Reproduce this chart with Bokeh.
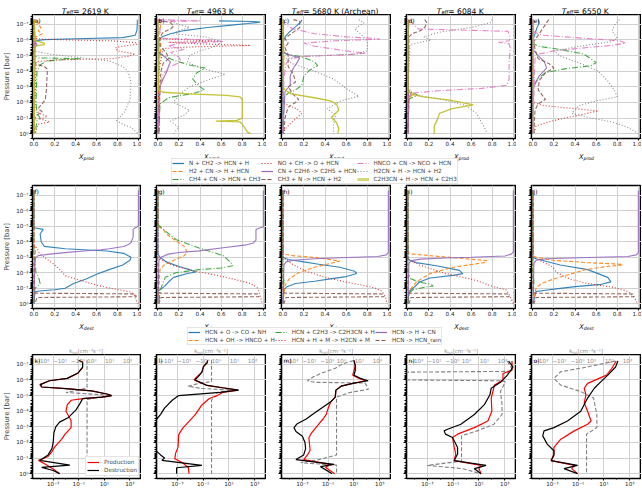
import numpy as np
from bokeh.plotting import figure
from bokeh.models import (Range1d, FixedTicker, CustomJSTickFormatter, Label, Legend, LegendItem,
                          LinearScale)
from bokeh.layouts import row, column
from bokeh.embed import file_html
from bokeh.resources import INLINE
from bokeh.core.properties import value

FONT = "DejaVu Sans"
TEMPS = ["2619 K", "4963 K", "5680 K (Archean)", "6084 K", "6550 K"]
LETTERS = "abcdefghijklmno"

PROD_NAMES = ["N + CH2 -> HCN + H", "H2 + CN -> H + HCN", "CH4 + CN -> HCN + CH3",
              "NO + CH -> O + HCN", "CN + C2H6 -> C2H5 + HCN", "CH3 + N -> HCN + H2",
              "HNCO + CN -> NCO + HCN", "H2CN + H -> HCN + H2", "C2H3CN + H -> HCN + C2H3"]
PROD_COLORS = ["#1f77b4", "#ff7f0e", "#2ca02c", "#d62728", "#9467bd", "#8c564b", "#e377c2", "#7f7f7f", "#bcbd22"]
PROD_DASH = ["solid", "4 2", "6 2 1 2", "1 2", "solid", "4 2", "6 2 1 2", "1 2", "solid"]

DEST_NAMES = ["HCN + O -> CO + NH", "HCN + OH -> HNCO + H", "HCN + C2H3 -> C2H3CN + H",
              "HCN + H + M -> H2CN + M", "HCN -> H + CN", "HCN -> HCN_rain"]
DEST_COLORS = ["#1f77b4", "#ff7f0e", "#2ca02c", "#d62728", "#9467bd", "#8c564b"]
DEST_DASH = ["solid", "4 2", "6 2 1 2", "1 2", "solid", "4 2"]

P_TICK_EXP = [-7, -6, -5, -4, -3, -2, -1, 0]
X_TICKS = [0.0, 0.2, 0.4, 0.6, 0.8, 1.0]
K_TICK_EXP = [-3, -1, 1, 3]
KTOT_TICKS = [-100, -10, -1, 1, 10, 100]
KTOT_LABELS = ["\u221210\u00b2", "\u221210\u00b9", "\u221210\u2070", "10\u2070", "10\u00b9", "10\u00b2"]

# ---- production fractions: (log10 P [bar], X_prod) ----
prod_a = {
    PROD_NAMES[0]: [(-7.3, 0.99), (-7.0, 0.99), (-6.6, 0.985), (-6.3, 0.97), (-6.15, 0.85), (-6.08, 0.4), (-6.02, 0.1), (-5.95, 0.02), (-5.5, 0.005), (0.0, 0.003)],
    PROD_NAMES[1]: [(-7.3, 0.01), (-7.15, 0.06), (-7.0, 0.03), (-6.8, 0.07), (-6.6, 0.04), (-6.4, 0.08), (-6.2, 0.02), (-6.0, 0.005), (0.0, 0.003)],
    PROD_NAMES[2]: [(-7.3, 0.0), (-5.0, 0.0), (-4.85, 0.05), (-4.8, 0.45), (-4.75, 0.3), (-4.65, 0.12), (-4.4, 0.06), (-4.0, 0.03), (-2.0, 0.02), (-1.3, 0.03), (-1.0, 0.06), (-0.8, 0.03), (-0.4, 0.02), (0.0, 0.02)],
    PROD_NAMES[3]: [(-7.3, 0.0), (-6.1, 0.0), (-6.04, 0.1), (-5.94, 0.75), (-5.83, 0.97), (-5.73, 0.99), (-5.6, 0.85), (-5.5, 0.78), (-5.3, 0.8), (-5.1, 0.97), (-4.95, 0.9), (-4.8, 0.75), (-4.72, 0.2), (-4.6, 0.02), (-1.6, 0.01), (-1.3, 0.05), (-1.1, 0.13), (-0.95, 0.06), (-0.75, 0.15), (-0.6, 0.04), (0.0, 0.01)],
    PROD_NAMES[4]: [(-7.3, 0.005), (-5.9, 0.01), (-5.7, 0.03), (-5.5, 0.01), (0.0, 0.003)],
    PROD_NAMES[5]: [(-7.3, 0.0), (-4.6, 0.0), (-4.45, 0.02), (-4.3, 0.1), (-4.13, 0.13), (-3.5, 0.125), (-2.8, 0.12), (-2.2, 0.11), (-2.0, 0.09), (-1.6, 0.04), (-1.4, 0.08), (-1.2, 0.03), (-1.0, 0.01), (0.0, 0.0)],
    PROD_NAMES[6]: [(-7.3, 0.003), (0.0, 0.003)],
    PROD_NAMES[7]: [(-7.3, 0.0), (-5.3, 0.0), (-5.1, 0.15), (-4.9, 0.4), (-4.66, 0.72), (-4.3, 0.85), (-4.0, 0.9), (-3.3, 0.93), (-2.2, 0.92), (-1.4, 0.87), (-0.85, 0.79), (-0.6, 0.85), (-0.4, 0.93), (-0.1, 0.98), (0.0, 1.0)],
    PROD_NAMES[8]: [(-7.3, 0.005), (-5.95, 0.01), (-5.8, 0.1), (-5.7, 0.1), (-5.6, 0.01), (0.0, 0.003)],
}
prod_b = {
    PROD_NAMES[0]: [(-7.22, 0.58), (-7.18, 0.9), (-7.14, 0.97), (-7.05, 0.85), (-6.95, 0.7), (-6.8, 0.47), (-6.6, 0.25), (-6.4, 0.12), (-6.2, 0.04), (-6.0, 0.01), (0.0, 0.0)],
    PROD_NAMES[1]: [(-7.3, 0.01), (-7.0, 0.03), (-6.5, 0.01), (-5.5, 0.03), (-5.0, 0.02), (-4.0, 0.01), (0.0, 0.005)],
    PROD_NAMES[2]: [(-7.3, 0.0), (-5.3, 0.0), (-5.1, 0.02), (-4.7, 0.15), (-4.4, 0.3), (-4.2, 0.45), (-3.9, 0.37), (-3.5, 0.33), (-3.1, 0.38), (-2.8, 0.44), (-2.6, 0.35), (-2.3, 0.1), (-1.9, 0.02), (0.0, 0.01)],
    PROD_NAMES[3]: [(-7.3, 0.0), (-6.1, 0.0), (-6.0, 0.3), (-5.92, 0.55), (-5.85, 0.1), (-5.75, 0.4), (-5.65, 0.88), (-5.55, 0.3), (-5.45, 0.05), (-4.0, 0.01), (0.0, 0.0)],
    PROD_NAMES[4]: [(-7.3, 0.0), (-5.3, 0.0), (-5.0, 0.05), (-4.6, 0.12), (-4.3, 0.1), (-3.9, 0.08), (-3.5, 0.05), (-3.0, 0.02), (0.0, 0.0)],
    PROD_NAMES[5]: [(-7.3, 0.0), (-7.1, 0.12), (-6.9, 0.15), (-6.7, 0.12), (-6.5, 0.05), (-6.2, 0.02), (-5.6, 0.02), (-5.2, 0.08), (-4.8, 0.1), (-4.5, 0.05), (-4.0, 0.03), (-3.0, 0.02), (0.0, 0.01)],
    PROD_NAMES[6]: [(-7.3, 0.0), (-7.22, 0.4), (-7.18, 0.02), (-6.5, 0.02), (-6.1, 0.05), (-6.0, 0.5), (-5.9, 0.62), (-5.8, 0.2), (-5.6, 0.1), (-5.4, 0.25), (-5.2, 0.12), (-4.9, 0.2), (-4.6, 0.22), (-4.3, 0.12), (-3.8, 0.05), (-3.0, 0.02), (0.0, 0.0)],
    PROD_NAMES[7]: [(-7.3, 0.1), (-7.1, 0.15), (-6.8, 0.3), (-6.6, 0.2), (-6.4, 0.15), (-6.2, 0.45), (-5.9, 0.6), (-5.6, 0.55), (-5.3, 0.4), (-5.0, 0.3), (-4.6, 0.28), (-4.2, 0.4), (-3.8, 0.64), (-3.5, 0.5), (-3.0, 0.3), (-2.5, 0.2), (-2.0, 0.15), (-1.5, 0.3), (-1.2, 0.25), (-0.8, 0.12), (-0.4, 0.2), (0.0, 0.15)],
    PROD_NAMES[8]: [(-7.3, 0.0), (-2.8, 0.005), (-2.65, 0.05), (-2.55, 0.3), (-2.45, 0.65), (-2.35, 0.78), (-2.2, 0.8), (-1.5, 0.8), (-1.0, 0.8), (-0.85, 0.75), (-0.8, 0.55), (-0.75, 0.78), (-0.6, 0.8), (-0.4, 0.82), (-0.1, 0.85), (0.0, 0.88)],
}
prod_c = {
    PROD_NAMES[0]: [(-7.3, 0.18), (-7.15, 0.17), (-6.9, 0.13), (-6.5, 0.06), (-6.2, 0.02), (-5.8, 0.0), (0.0, 0.0)],
    PROD_NAMES[1]: [(-7.3, 0.005), (-5.0, 0.01), (-3.0, 0.005), (0.0, 0.003)],
    PROD_NAMES[2]: [(-7.3, 0.0), (-5.3, 0.0), (-5.1, 0.03), (-4.9, 0.19), (-4.6, 0.3), (-4.35, 0.33), (-4.05, 0.25), (-3.7, 0.2), (-3.1, 0.18), (-2.8, 0.12), (-2.6, 0.05), (-2.3, 0.01), (0.0, 0.0)],
    PROD_NAMES[3]: [(-7.3, 0.0), (-2.0, 0.0), (-1.8, 0.05), (-1.6, 0.13), (-1.3, 0.18), (-1.0, 0.13), (-0.7, 0.08), (-0.3, 0.02), (0.0, 0.01)],
    PROD_NAMES[4]: [(-7.3, 0.0), (-5.2, 0.0), (-5.0, 0.08), (-4.85, 0.16), (-4.5, 0.13), (-4.2, 0.1), (-3.7, 0.07), (-3.1, 0.07), (-2.7, 0.02), (0.0, 0.0)],
    PROD_NAMES[5]: [(-7.3, 0.1), (-7.2, 0.16), (-6.8, 0.16), (-6.5, 0.1), (-6.1, 0.02), (-5.8, 0.05), (-5.5, 0.02), (-5.0, 0.05), (-4.3, 0.05), (-3.8, 0.1), (-3.3, 0.12), (-3.0, 0.05), (-2.5, 0.1), (-2.2, 0.15), (-2.0, 0.12), (-1.7, 0.05), (-1.0, 0.02), (0.0, 0.01)],
    PROD_NAMES[6]: [(-7.3, 0.0), (-7.0, 0.02), (-6.7, 0.1), (-6.4, 0.3), (-6.2, 0.6), (-6.1, 0.88), (-6.05, 0.92), (-5.95, 0.5), (-5.8, 0.2), (-5.6, 0.3), (-5.3, 0.6), (-5.15, 0.79), (-5.05, 0.6), (-4.95, 0.2), (-4.8, 0.08), (-4.5, 0.03), (-3.5, 0.01), (0.0, 0.0)],
    PROD_NAMES[7]: [(-7.3, 0.72), (-7.1, 0.77), (-6.7, 0.68), (-6.3, 0.75), (-5.9, 0.8), (-5.3, 0.8), (-5.1, 0.7), (-4.95, 0.2), (-4.8, 0.03), (-4.5, 0.08), (-4.0, 0.3), (-3.5, 0.48), (-2.8, 0.62), (-2.4, 0.72), (-2.1, 0.55), (-1.6, 0.42), (-1.2, 0.5), (-0.6, 0.48), (0.0, 0.48)],
    PROD_NAMES[8]: [(-7.3, 0.0), (-3.0, 0.005), (-2.8, 0.02), (-2.55, 0.08), (-2.3, 0.3), (-2.1, 0.45), (-1.9, 0.51), (-1.5, 0.53), (-1.05, 0.46), (-0.7, 0.51), (-0.3, 0.53), (0.0, 0.52)],
}
prod_d = {
    PROD_NAMES[0]: [(-7.3, 0.01), (-6.5, 0.005), (0.0, 0.0)],
    PROD_NAMES[1]: [(-7.3, 0.0), (-2.7, 0.0), (-2.5, 0.05), (-2.4, 0.03), (-2.2, 0.01), (0.0, 0.0)],
    PROD_NAMES[2]: [(-7.3, 0.0), (-2.8, 0.0), (-2.6, 0.05), (-2.45, 0.1), (-2.35, 0.05), (-2.2, 0.01), (0.0, 0.0)],
    PROD_NAMES[3]: [(-7.3, 0.003), (0.0, 0.003)],
    PROD_NAMES[4]: [(-7.3, 0.0), (-2.8, 0.0), (-2.55, 0.03), (-2.35, 0.01), (0.0, 0.0)],
    PROD_NAMES[5]: [(-7.3, 0.16), (-7.1, 0.18), (-6.8, 0.16), (-6.6, 0.12), (-6.4, 0.04), (-6.2, 0.01), (0.0, 0.0)],
    PROD_NAMES[6]: [(-7.3, 0.02), (-7.0, 0.05), (-6.7, 0.1), (-6.6, 0.7), (-6.55, 0.95), (-6.2, 0.97), (-5.95, 0.96), (-5.85, 0.86), (-5.75, 0.96), (-5.5, 0.97), (-4.5, 0.96), (-3.5, 0.96), (-3.1, 0.94), (-2.9, 0.7), (-2.75, 0.3), (-2.6, 0.05), (-2.4, 0.0), (0.0, 0.0)],
    PROD_NAMES[7]: [(-7.3, 0.8), (-7.1, 0.78), (-6.8, 0.6), (-6.5, 0.3), (-6.2, 0.15), (-6.0, 0.22), (-5.85, 0.12), (-5.7, 0.02), (-3.0, 0.0), (-2.5, 0.05), (-2.2, 0.32), (-1.8, 0.55), (-1.3, 0.65), (-0.7, 0.7), (-0.2, 0.74), (0.0, 0.75)],
    PROD_NAMES[8]: [(-7.3, 0.0), (-2.7, 0.0), (-2.5, 0.05), (-2.35, 0.15), (-2.15, 0.4), (-1.85, 0.62), (-1.6, 0.42), (-1.3, 0.3), (-0.9, 0.28), (-0.5, 0.25), (0.0, 0.25)],
}
prod_e = {
    PROD_NAMES[0]: [(-7.3, 0.05), (-7.1, 0.06), (-6.8, 0.04), (-6.4, 0.02), (-6.0, 0.0), (0.0, 0.0)],
    PROD_NAMES[1]: [(-7.3, 0.003), (0.0, 0.003)],
    PROD_NAMES[2]: [(-7.3, 0.0), (-5.8, 0.0), (-5.6, 0.05), (-5.4, 0.25), (-5.1, 0.48), (-4.8, 0.55), (-4.55, 0.6), (-4.35, 0.55), (-4.15, 0.3), (-3.9, 0.12), (-3.6, 0.06), (-3.2, 0.02), (-2.7, 0.0), (0.0, 0.0)],
    PROD_NAMES[3]: [(-7.3, 0.0), (-2.0, 0.0), (-1.8, 0.1), (-1.6, 0.4), (-1.45, 0.62), (-1.35, 0.55), (-1.2, 0.45), (-1.0, 0.3), (-0.75, 0.15), (-0.5, 0.03), (0.0, 0.01)],
    PROD_NAMES[4]: [(-7.3, 0.0), (-5.4, 0.0), (-5.0, 0.05), (-4.6, 0.11), (-4.2, 0.13), (-3.7, 0.06), (-3.2, 0.02), (-2.8, 0.0), (0.0, 0.0)],
    PROD_NAMES[5]: [(-7.3, 0.15), (-7.0, 0.12), (-6.6, 0.08), (-6.2, 0.04), (-5.9, 0.01), (-5.4, 0.02), (-4.8, 0.05), (-4.5, 0.15), (-4.2, 0.2), (-3.9, 0.12), (-3.4, 0.06), (-2.8, 0.05), (-2.2, 0.12), (-1.9, 0.05), (-1.5, 0.02), (0.0, 0.01)],
    PROD_NAMES[6]: [(-7.3, 0.0), (-6.5, 0.01), (-6.3, 0.1), (-6.1, 0.5), (-5.95, 0.82), (-5.8, 0.88), (-5.65, 0.75), (-5.5, 0.5), (-5.3, 0.2), (-5.1, 0.06), (-4.8, 0.02), (0.0, 0.0)],
    PROD_NAMES[7]: [(-7.3, 0.82), (-7.0, 0.78), (-6.6, 0.75), (-6.1, 0.8), (-5.9, 0.75), (-5.6, 0.45), (-5.3, 0.2), (-5.0, 0.25), (-4.5, 0.45), (-4.0, 0.62), (-3.3, 0.72), (-2.7, 0.78), (-2.35, 0.8), (-2.1, 0.6), (-1.8, 0.44), (-1.3, 0.37), (-1.0, 0.55), (-0.75, 0.75), (-0.4, 0.9), (-0.1, 0.98), (0.0, 1.0)],
    PROD_NAMES[8]: [(-7.3, 0.005), (0.0, 0.005)],
}

# ---- destruction fractions: (log10 P [bar], X_dest) ----
dest_f = {
    DEST_NAMES[0]: [(-7.3, 0.0), (-4.9, 0.0), (-4.8, 0.09), (-4.5, 0.06), (-4.0, 0.07), (-3.7, 0.1), (-3.55, 0.3), (-3.4, 0.7), (-3.25, 0.86), (-3.0, 0.93), (-2.8, 0.92), (-2.5, 0.85), (-2.2, 0.72), (-1.9, 0.6), (-1.6, 0.5), (-1.3, 0.38), (-1.0, 0.3), (-0.9, 0.2), (-0.82, 0.05), (-0.75, 0.01), (0.0, 0.0)],
    DEST_NAMES[1]: [(-7.3, 0.0), (-3.8, 0.0), (-3.5, 0.02), (-3.2, 0.01), (0.0, 0.0)],
    DEST_NAMES[2]: [(-7.3, 0.0), (-3.4, 0.0), (-3.0, 0.01), (-2.0, 0.02), (-1.6, 0.05), (-1.3, 0.06), (-1.1, 0.03), (-1.0, 0.01), (0.0, 0.0)],
    DEST_NAMES[3]: [(-7.3, 0.0), (-3.8, 0.0), (-3.6, 0.03), (-3.3, 0.05), (-3.0, 0.1), (-2.6, 0.18), (-2.2, 0.25), (-1.8, 0.3), (-1.5, 0.45), (-1.2, 0.6), (-1.0, 0.73), (-0.85, 0.85), (-0.75, 0.93), (-0.5, 0.97), (-0.2, 0.98), (0.0, 1.0)],
    DEST_NAMES[4]: [(-7.3, 1.0), (-5.0, 1.0), (-4.9, 0.97), (-4.8, 0.95), (-4.3, 0.95), (-3.95, 0.93), (-3.8, 0.9), (-3.69, 0.86), (-3.55, 0.72), (-3.48, 0.64), (-3.4, 0.48), (-3.31, 0.32), (-3.2, 0.15), (-3.1, 0.04), (-2.9, 0.01), (0.0, 0.0)],
    DEST_NAMES[5]: [(-7.3, 0.0), (-0.75, 0.0), (-0.68, 0.02), (-0.63, 0.97), (-0.45, 0.98), (-0.4, 0.03), (0.0, 0.01)],
}
dest_g = {
    DEST_NAMES[0]: [(-7.3, 0.0), (-3.2, 0.0), (-3.0, 0.02), (-2.7, 0.08), (-2.4, 0.2), (-2.2, 0.3), (-2.05, 0.36), (-1.95, 0.28), (-1.7, 0.15), (-1.4, 0.1), (-1.1, 0.06), (-0.9, 0.02), (-0.8, 0.0), (0.0, 0.0)],
    DEST_NAMES[1]: [(-7.3, 0.0), (-5.0, 0.0), (-4.8, 0.05), (-4.5, 0.08), (-4.15, 0.15), (-3.7, 0.25), (-3.3, 0.28), (-3.1, 0.25), (-2.8, 0.15), (-2.5, 0.06), (-2.2, 0.02), (0.0, 0.0)],
    DEST_NAMES[2]: [(-7.3, 0.0), (-5.1, 0.0), (-5.0, 0.02), (-4.7, 0.07), (-4.15, 0.17), (-3.6, 0.39), (-3.1, 0.62), (-2.6, 0.7), (-2.45, 0.71), (-2.3, 0.6), (-2.2, 0.39), (-2.0, 0.17), (-1.7, 0.07), (-1.2, 0.04), (-0.8, 0.02), (0.0, 0.01)],
    DEST_NAMES[3]: [(-7.3, 0.0), (-3.0, 0.0), (-2.85, 0.03), (-2.5, 0.13), (-2.1, 0.35), (-1.85, 0.55), (-1.6, 0.71), (-1.3, 0.88), (-1.05, 0.94), (-0.8, 0.96), (-0.5, 0.97), (0.0, 0.99)],
    DEST_NAMES[4]: [(-7.3, 1.0), (-4.95, 1.0), (-4.85, 0.95), (-4.78, 0.93), (-4.1, 0.93), (-3.9, 0.9), (-3.8, 0.84), (-3.6, 0.6), (-3.41, 0.39), (-3.3, 0.2), (-3.2, 0.1), (-3.0, 0.03), (-2.8, 0.01), (0.0, 0.0)],
    DEST_NAMES[5]: [(-7.3, 0.0), (-0.75, 0.0), (-0.68, 0.02), (-0.63, 0.95), (-0.45, 0.96), (-0.4, 0.03), (0.0, 0.01)],
}
dest_h = {
    DEST_NAMES[0]: [(-7.3, 0.0), (-3.0, 0.0), (-2.85, 0.05), (-2.7, 0.2), (-2.55, 0.34), (-2.35, 0.54), (-2.1, 0.68), (-1.95, 0.7), (-1.75, 0.6), (-1.6, 0.45), (-1.45, 0.3), (-1.3, 0.12), (-1.1, 0.04), (-0.9, 0.01), (0.0, 0.0)],
    DEST_NAMES[1]: [(-7.3, 0.0), (-3.2, 0.0), (-3.1, 0.1), (-2.95, 0.35), (-2.75, 0.54), (-2.6, 0.45), (-2.35, 0.3), (-2.0, 0.15), (-1.6, 0.06), (-1.2, 0.02), (0.0, 0.0)],
    DEST_NAMES[2]: [(-7.3, 0.0), (-2.0, 0.0), (-1.5, 0.01), (0.0, 0.0)],
    DEST_NAMES[3]: [(-7.3, 0.0), (-3.0, 0.0), (-2.8, 0.04), (-2.5, 0.1), (-2.1, 0.22), (-1.7, 0.4), (-1.4, 0.6), (-1.2, 0.75), (-1.0, 0.88), (-0.8, 0.94), (-0.5, 0.97), (0.0, 0.99)],
    DEST_NAMES[4]: [(-7.3, 1.0), (-3.3, 1.0), (-3.15, 0.98), (-3.05, 0.9), (-2.98, 0.6), (-2.9, 0.3), (-2.8, 0.1), (-2.7, 0.03), (-2.5, 0.01), (0.0, 0.0)],
    DEST_NAMES[5]: [(-7.3, 0.0), (-0.75, 0.0), (-0.68, 0.02), (-0.63, 0.95), (-0.45, 0.96), (-0.4, 0.03), (0.0, 0.01)],
}
dest_i = {
    DEST_NAMES[0]: [(-7.3, 0.0), (-2.9, 0.0), (-2.75, 0.03), (-2.65, 0.08), (-2.45, 0.27), (-2.15, 0.49), (-1.94, 0.52), (-1.83, 0.43), (-1.66, 0.21), (-1.4, 0.11), (-1.0, 0.05), (-0.8, 0.01), (0.0, 0.0)],
    DEST_NAMES[1]: [(-7.3, 0.0), (-3.3, 0.0), (-3.2, 0.05), (-3.05, 0.3), (-2.9, 0.55), (-2.78, 0.75), (-2.65, 0.72), (-2.35, 0.43), (-1.95, 0.21), (-1.4, 0.08), (-0.9, 0.02), (0.0, 0.0)],
    DEST_NAMES[2]: [(-7.3, 0.0), (-2.0, 0.0), (-1.6, 0.03), (-1.4, 0.11), (-1.25, 0.21), (-1.15, 0.24), (-1.05, 0.15), (-0.9, 0.05), (-0.7, 0.01), (0.0, 0.0)],
    DEST_NAMES[3]: [(-7.3, 0.0), (-2.9, 0.0), (-2.8, 0.03), (-2.5, 0.11), (-2.0, 0.33), (-1.5, 0.65), (-1.1, 0.81), (-0.9, 0.93), (-0.6, 0.96), (-0.3, 0.98), (0.0, 1.0)],
    DEST_NAMES[4]: [(-7.3, 1.0), (-3.35, 1.0), (-3.2, 0.98), (-3.08, 0.92), (-3.0, 0.6), (-2.95, 0.35), (-2.88, 0.12), (-2.78, 0.03), (-2.6, 0.01), (0.0, 0.0)],
    DEST_NAMES[5]: [(-7.3, 0.0), (-0.75, 0.0), (-0.68, 0.02), (-0.63, 0.95), (-0.45, 0.96), (-0.4, 0.03), (0.0, 0.01)],
}
dest_j = {
    DEST_NAMES[0]: [(-7.3, 0.0), (-3.0, 0.0), (-2.9, 0.03), (-2.5, 0.26), (-2.2, 0.52), (-1.7, 0.71), (-1.41, 0.74), (-1.25, 0.65), (-1.1, 0.4), (-0.99, 0.26), (-0.85, 0.1), (-0.78, 0.03), (0.0, 0.0)],
    DEST_NAMES[1]: [(-7.3, 0.0), (-3.1, 0.0), (-3.0, 0.03), (-2.8, 0.19), (-2.65, 0.52), (-2.55, 0.84), (-2.5, 0.85), (-2.4, 0.7), (-2.2, 0.5), (-1.9, 0.35), (-1.6, 0.2), (-1.3, 0.08), (-1.0, 0.03), (0.0, 0.0)],
    DEST_NAMES[2]: [(-7.3, 0.0), (-2.0, 0.0), (-1.5, 0.01), (0.0, 0.0)],
    DEST_NAMES[3]: [(-7.3, 0.0), (-3.0, 0.0), (-2.85, 0.05), (-2.4, 0.18), (-2.0, 0.23), (-1.6, 0.35), (-1.3, 0.52), (-1.05, 0.77), (-0.8, 0.9), (-0.5, 0.95), (-0.2, 0.98), (0.0, 0.99)],
    DEST_NAMES[4]: [(-7.3, 1.0), (-3.3, 1.0), (-3.15, 0.98), (-3.05, 0.9), (-2.98, 0.52), (-2.9, 0.13), (-2.8, 0.03), (-2.6, 0.01), (0.0, 0.0)],
    DEST_NAMES[5]: [(-7.3, 0.0), (-0.75, 0.0), (-0.68, 0.02), (-0.63, 0.95), (-0.45, 0.96), (-0.4, 0.03), (0.0, 0.01)],
}

# ---- rate coefficients: (log10 P [bar], log10 k_net) and (log10 P, k_tot) ----
net_k = {
    "prod": [(-7.25, -1.0), (-7.15, -0.7), (-6.8, -0.7), (-6.45, -1.05), (-6.1, -1.9), (-5.95, -3.3), (-5.7, -4.05), (-5.55, -3.9), (-5.45, -2.0), (-5.3, 0.0), (-5.1, 1.2), (-5.0, 1.6), (-4.9, 0.8), (-4.8, -0.7), (-4.7, -1.6), (-4.4, -1.9), (-4.0, -2.0), (-3.4, -1.6), (-2.95, -1.6), (-2.5, -2.1), (-2.2, -2.35), (-1.7, -2.9), (-1.4, -3.1), (-1.1, -3.4), (-0.85, -4.15), (-0.6, -3.6), (-0.3, -3.0), (0.0, -2.5)],
    "dest": [(-7.25, -1.0), (-7.15, -0.7), (-6.8, -0.7), (-6.45, -1.05), (-6.1, -1.9), (-5.95, -3.3), (-5.7, -4.0), (-5.55, -3.9), (-5.45, -2.0), (-5.3, 0.0), (-5.1, 1.2), (-5.0, 1.55), (-4.9, 0.8), (-4.8, -0.7), (-4.5, -0.9), (-4.1, -1.2), (-3.6, -1.8), (-3.3, -2.5), (-3.0, -2.8), (-2.6, -2.95), (-2.0, -3.0), (-1.6, -3.1), (-1.2, -3.4), (-0.85, -4.05), (-0.55, -1.7), (-0.4, -3.9), (-0.2, -3.0), (0.0, -2.5)],
    "tot": [(-7.3, 0.3), (-5.5, 0.3), (-5.35, -1.0), (-5.2, -4.7), (-5.05, 4.0), (-4.95, 11.0), (-4.85, 1.5), (-4.75, 0.3), (0.0, 0.3)],
}
net_l = {
    "prod": [(-7.25, -0.65), (-7.1, -0.7), (-6.85, -0.98), (-6.5, -1.1), (-6.2, -1.5), (-6.0, -1.7), (-5.8, -1.1), (-5.65, -0.7), (-5.5, 0.5), (-5.35, 1.7), (-5.2, 0.5), (-5.05, 0.2), (-4.8, -0.55), (-4.4, -1.1), (-3.8, -1.6), (-3.3, -2.15), (-2.9, -2.6), (-2.5, -2.9), (-1.7, -2.95), (-1.3, -3.14), (-0.95, -3.2), (-0.7, -2.6), (-0.4, -2.15), (0.0, -2.1)],
    "dest": [(-7.25, -0.65), (-7.1, -0.7), (-6.85, -0.98), (-6.5, -1.1), (-6.2, -1.4), (-6.0, -1.65), (-5.8, -1.1), (-5.65, -0.7), (-5.5, 0.5), (-5.35, 1.75), (-5.2, 0.3), (-5.0, -2.9), (-4.7, -3.4), (-4.2, -4.0), (-3.8, -4.3), (-3.5, -4.6), (-3.0, -4.8), (-2.0, -4.8), (-1.5, -4.7), (-1.2, -4.3), (-1.0, -4.0), (-0.85, -4.2), (-0.53, -1.1), (-0.38, -3.06), (0.0, -3.06)],
    "tot": [(-7.3, 0.3), (-5.9, 0.3), (-5.75, -2.0), (-5.6, -6.5), (-5.45, -1.0), (-5.36, 6.5), (-5.2, 1.0), (-5.0, 1.2), (-4.85, 0.5), (-4.7, 0.3), (0.0, 0.3)],
}
net_m = {
    "prod": [(-7.25, 1.0), (-6.9, 1.1), (-6.6, 1.0), (-6.3, 0.9), (-6.1, 1.4), (-5.95, 1.9), (-5.8, 1.0), (-5.6, 0.0), (-5.35, -0.4), (-4.9, -0.45), (-4.6, -0.8), (-4.2, -1.0), (-3.8, -1.15), (-3.5, -1.4), (-3.2, -1.7), (-2.9, -2.0), (-2.6, -2.3), (-2.3, -2.5), (-1.9, -2.45), (-1.5, -2.4), (-1.2, -2.6), (-0.9, -2.9), (-0.6, -0.9), (-0.4, -1.2), (0.0, -0.5)],
    "dest": [(-7.25, 1.0), (-6.9, 1.1), (-6.6, 1.1), (-6.3, 1.0), (-6.1, 1.5), (-5.95, 2.1), (-5.8, 1.0), (-5.6, 0.0), (-5.35, -0.4), (-4.9, -0.45), (-4.6, -0.8), (-4.2, -1.5), (-3.8, -2.2), (-3.5, -2.7), (-3.2, -3.4), (-2.95, -3.65), (-2.7, -3.5), (-2.4, -3.0), (-2.0, -2.8), (-1.6, -2.75), (-1.2, -2.9), (-0.9, -3.5), (-0.6, -0.55), (-0.45, -1.6), (0.0, -0.7)],
    "tot": [(-7.25, 4.6), (-7.0, 1.0), (-6.75, 0.14), (-6.6, -0.8), (-6.4, -2.5), (-6.2, -6.0), (-5.95, -13.0), (-5.85, -5.0), (-5.8, 20.0), (-5.6, 27.0), (-5.4, 31.0), (-5.2, 3.0), (-4.9, 0.3), (-1.2, 0.3), (-0.9, -3.0), (-0.7, -30.0), (-0.55, 0.3), (0.0, 0.3)],
}
net_n = {
    "prod": [(-7.21, 3.56), (-6.62, 3.56), (-6.41, 2.86), (-5.99, 2.86), (-5.68, 2.2), (-5.26, 2.08), (-4.84, 1.95), (-4.0, 2.0), (-3.37, 1.69), (-2.95, 0.64), (-2.53, -0.66), (-2.32, -1.05), (-1.68, -0.92), (-1.26, -0.8), (-0.84, -0.92), (-0.53, 1.16), (-0.32, 1.0), (0.0, 1.16)],
    "dest": [(-7.21, 3.3), (-6.83, 3.64), (-6.31, 3.2), (-5.89, 2.73), (-5.47, 1.95), (-5.05, 1.85), (-4.42, 1.42), (-3.79, 0.64), (-3.16, -0.4), (-2.84, -1.44), (-2.74, -1.7), (-2.53, -1.6), (-2.32, -1.05), (-1.68, -0.66), (-1.26, -0.66), (-0.84, -0.92), (-0.53, 1.55), (-0.32, 0.64), (0.0, 1.16)],
    "tot": [(-7.21, 182.0), (-6.7, 347.0), (-6.55, 300.0), (-6.5, -400.0), (-6.0, -400.0), (-5.95, 77.0), (-5.89, 146.0), (-5.26, 77.0), (-4.42, 95.0), (-3.79, 95.0), (-3.16, 33.0), (-2.74, 3.9), (-2.42, 0.3), (-0.8, 0.3), (-0.53, -25.0), (-0.32, 0.5), (0.0, 6.0)],
}
net_o = {
    "prod": [(-7.21, 1.95), (-6.73, 1.6), (-6.31, 1.2), (-5.78, -0.27), (-5.47, -0.53), (-5.05, -0.4), (-4.53, -0.53), (-4.0, -0.27), (-3.37, 0.0), (-3.16, -0.27), (-2.74, -1.3), (-2.21, -2.35), (-1.68, -2.88), (-1.26, -2.88), (-0.84, -3.1), (-0.53, -1.3), (-0.32, -1.5), (0.0, -1.05)],
    "dest": [(-7.21, 2.08), (-6.83, 1.9), (-6.31, 1.3), (-5.89, 0.77), (-5.47, 0.25), (-4.84, -0.27), (-4.0, -0.8), (-3.37, -1.83), (-2.95, -2.88), (-2.74, -3.65), (-2.42, -3.75), (-1.89, -3.4), (-1.47, -2.88), (-1.16, -2.88), (-0.84, -3.1), (-0.53, -1.05), (-0.32, -2.1), (0.0, -1.05)],
    "tot": [(-7.21, 21.0), (-6.83, 0.38), (-6.52, -8.7), (-6.1, -20.0), (-5.68, -8.7), (-5.26, -0.57), (-4.84, 1.3), (-3.79, 2.0), (-2.95, 2.0), (-2.53, 0.3), (0.0, 0.3)],
}

PROD_PANELS = [prod_a, prod_b, prod_c, prod_d, prod_e]
DEST_PANELS = [dest_f, dest_g, dest_h, dest_i, dest_j]
NET_PANELS = [net_k, net_l, net_m, net_n, net_o]

# ------------------------------------------------------------------
CW = {' ': .318, '=': .838, '+': .838, '-': .361, '>': .838, '[': .39, ']': .39, '(': .39, ')': .39,
      'T': .611, 'X': .685, 'K': .656, 'A': .684, 'e': .615, 'f': .352, 'p': .635, 'r': .411, 'o': .612,
      'd': .635, 's': .521, 't': .392, 'k': .579, 'n': .634, 'c': .55, 'm': .974, 'h': .634, 'a': .613,
      '\u207b': .42, '\u00b3': .42, '\u00b9': .42}

TOTAL_W = 641
FW = 110
COL_LEFT = [31 + 125 * i for i in range(5)]
SYM_LIN = 0.39
AX_H = 11  # height reserved under each row of panels for tick labels


def tw(s, size):
    return sum(CW.get(ch, .636) for ch in s) * size


def strip(height):
    f = figure(width=TOTAL_W, height=height, x_range=Range1d(0, TOTAL_W), y_range=Range1d(0, height),
               x_axis_type=None, y_axis_type=None, min_border=0, outline_line_color=None,
               toolbar_location=None, output_backend="svg")
    f.grid.visible = False
    return f


def rich_text(f, cx, y, parts, color="black"):
    total = sum(tw(t, s) for t, s, _, _ in parts)
    x = cx - total / 2
    for t, s, dy, style in parts:
        f.text(x=[x], y=[y + dy], text=[t], text_font=value(FONT), text_font_size=value(f"{s}px"),
               text_font_style=value(style), text_color=color, text_baseline="alphabetic",
               text_align="left")
        x += tw(t, s)


def log_formatter(show=True):
    if not show:
        return CustomJSTickFormatter(code="return '';")
    return CustomJSTickFormatter(code="""
const s = {'-':'\u207b','0':'\u2070','1':'\u00b9','2':'\u00b2','3':'\u00b3','4':'\u2074','5':'\u2075','6':'\u2076','7':'\u2077','8':'\u2078','9':'\u2079'};
const e = Math.round(Math.log10(tick));
return '10' + String(e).split('').map(c => s[c]).join('');
""")


def symlog(v, lin=SYM_LIN):
    a = abs(v)
    if a <= 1:
        return v * lin
    return float(np.sign(v)) * (lin + np.log10(a))


def base_fig(col, frame_h, top, xr, xlog, letter):
    left = 31 if col == 0 else 15
    p = figure(width=left + FW, height=top + frame_h + AX_H,
               min_border_left=left, min_border_right=0,
               min_border_top=top, min_border_bottom=AX_H,
               x_range=xr, y_range=Range1d(10 ** 0.31, 10 ** -7.63),
               x_axis_type="log" if xlog else "linear", y_axis_type="log",
               output_backend="svg", toolbar_location=None)
    p.outline_line_color = "black"
    p.outline_line_width = 1.6
    p.background_fill_color = "white"
    p.border_fill_color = "white"
    for ax in (p.xaxis[0], p.yaxis[0]):
        ax.axis_line_color = None
        ax.major_tick_line_color = "black"
        ax.minor_tick_line_color = "black"
        ax.major_tick_out = 3
        ax.major_tick_in = 0
        ax.minor_tick_out = 2
        ax.minor_tick_in = 0
        ax.major_label_text_font = FONT
        ax.major_label_text_font_size = "5.6px"
        ax.major_label_text_color = "#222222"
        ax.major_label_standoff = 0
    p.xaxis[0].major_tick_out = 2
    p.xaxis[0].minor_tick_out = 1
    yax = p.yaxis[0]
    yax.major_label_standoff = 1
    yax.ticker = FixedTicker(ticks=[10.0 ** e for e in P_TICK_EXP],
                             minor_ticks=[m * 10.0 ** e for e in range(-8, 1) for m in range(2, 10)])
    yax.formatter = log_formatter(col == 0)
    if col == 0:
        yax.axis_label = "Pressure [bar]"
        yax.axis_label_text_font = FONT
        yax.axis_label_text_font_size = "6.8px"
        yax.axis_label_text_font_style = "normal"
        yax.axis_label_standoff = 2
    p.grid.grid_line_color = "#d0d0d0"
    p.grid.grid_line_width = 1
    p.add_layout(Label(x=2, y=frame_h - 2, x_units="screen", y_units="screen", text=letter + ")",
                       text_font=FONT, text_font_size="6px", text_baseline="top", text_color="black"))
    return p


def frac_fig(col, panel, names, colors, dashes, frame_h, top, letter):
    p = base_fig(col, frame_h, top, Range1d(-0.013, 1.03), False, letter)
    xax = p.xaxis[0]
    xax.ticker = FixedTicker(ticks=X_TICKS, minor_ticks=[])
    xax.formatter = CustomJSTickFormatter(code="return tick.toFixed(1);")
    for name, c, d in zip(names, colors, dashes):
        pts = panel[name]
        lw = 1.3 if c == "#bcbd22" else 1.1
        p.line([v for _, v in pts], [10.0 ** lp for lp, _ in pts], line_color=c,
               line_dash=d, line_width=lw, line_alpha=0.9)
    return p


def net_fig(col, panel, letter):
    p = base_fig(col, 124, 0, Range1d(10 ** -4.62, 10 ** 3.91), True, letter)
    xax = p.xaxis[0]
    xax.ticker = FixedTicker(ticks=[10.0 ** e for e in K_TICK_EXP],
                             minor_ticks=[10.0 ** e for e in range(-4, 4)])
    xax.formatter = log_formatter(True)
    p.extra_x_ranges = {"sym": Range1d(-2.94, 3.17)}
    p.extra_x_scales = {"sym": LinearScale()}
    tot = panel["tot"]
    p.line([symlog(v) for _, v in tot], [10.0 ** lp for lp, _ in tot], x_range_name="sym",
           line_color="#808080", line_dash="4 2", line_width=1.1)
    pr = panel["prod"]
    de = panel["dest"]
    r_prod = p.line([10.0 ** v for _, v in pr], [10.0 ** lp for lp, _ in pr], line_color="red", line_width=1.2)
    r_dest = p.line([10.0 ** v for _, v in de], [10.0 ** lp for lp, _ in de], line_color="black", line_width=1.2)
    p.text(x=[symlog(v) for v in KTOT_TICKS], y=[10 ** -7.2] * len(KTOT_TICKS), text=KTOT_LABELS,
           x_range_name="sym", text_font=value(FONT), text_font_size="5.6px", text_color="#8c8c8c",
           text_align="center", text_baseline="middle")
    if col == 0:
        lg = Legend(items=[LegendItem(label="Production", renderers=[r_prod]),
                           LegendItem(label="Destruction", renderers=[r_dest])],
                    location=(53, 2), label_text_font=FONT, label_text_font_size="5.7px",
                    glyph_width=12, glyph_height=8, label_height=8, label_standoff=5,
                    padding=1, spacing=0, margin=0, border_line_color="#cccccc",
                    background_fill_alpha=1.0)
        p.add_layout(lg)
    return p


def add_legend(f, names, colors, dashes, widths, loc, nrows, pad):
    items = []
    for n, c, d, w in zip(names, colors, dashes, widths):
        r = f.line(x=[float("nan")], y=[float("nan")], line_color=c, line_dash=d, line_width=w,
                   line_alpha=0.6 if w > 2 else 1.0)
        items.append(LegendItem(label=n, renderers=[r]))
    lg = Legend(items=items, location=loc, nrows=nrows, orientation="vertical",
                label_text_font=FONT, label_text_font_size="5.7px", glyph_width=12, glyph_height=8,
                label_height=8, label_standoff=5, padding=pad, spacing=0, margin=0,
                border_line_color="#cccccc", background_fill_alpha=1.0)
    f.add_layout(lg)


# title strip
top_strip = strip(14)
for i in range(5):
    rich_text(top_strip, COL_LEFT[i] + FW / 2, 3.5,
              [("T", 7.6, 0, "italic"), ("eff", 5.2, -1.3, "italic"), (" = " + TEMPS[i], 7.6, 0, "normal")])

# row 1 of panels
row1 = [frac_fig(i, PROD_PANELS[i], PROD_NAMES, PROD_COLORS, PROD_DASH, 124, 0, LETTERS[i]) for i in range(5)]

# x labels of row 1 + legend
mid1 = strip(35)
for i in range(5):
    rich_text(mid1, COL_LEFT[i] + FW / 2, 27.6, [("X", 6.6, 0, "italic"), ("prod", 4.6, -1.5, "italic")])
add_legend(mid1, PROD_NAMES, PROD_COLORS, PROD_DASH, [1.2] * 8 + [3.0], (171, 0), 3, 0)

# row 2 of panels
row2 = [frac_fig(i, DEST_PANELS[i], DEST_NAMES, DEST_COLORS, DEST_DASH, 123, 1, LETTERS[5 + i]) for i in range(5)]

# x labels of row 2 + legend + k_tot labels
mid2 = strip(35)
for i in range(5):
    rich_text(mid2, COL_LEFT[i] + FW / 2, 27.6, [("X", 6.6, 0, "italic"), ("dest", 4.6, -1.5, "italic")])
    rich_text(mid2, COL_LEFT[i] + FW / 2, 3.5, [("k", 5.4, 0, "normal"), ("tot", 3.9, -1.2, "normal"),
                                                (" [cm\u207b\u00b3s\u207b\u00b9]", 5.4, 0, "normal")],
              color="#8c8c8c")
add_legend(mid2, DEST_NAMES, DEST_COLORS, DEST_DASH, [1.2] * 6, (187, 9), 2, 0)

# row 3 of panels
row3 = [net_fig(i, NET_PANELS[i], LETTERS[10 + i]) for i in range(5)]

# x labels of row 3
bottom_strip = strip(8)
for i in range(5):
    rich_text(bottom_strip, COL_LEFT[i] + FW / 2, 2.2,
              [("k", 5.2, 0, "italic"), ("net", 3.8, -0.5, "italic"),
               (" [cm\u207b\u00b3s\u207b\u00b9]", 5.2, 0, "normal")])

layout = column(top_strip, row(*row1), mid1, row(*row2), mid2, row(*row3), bottom_strip)
open("out.html", "w").write(file_html(layout, INLINE))
